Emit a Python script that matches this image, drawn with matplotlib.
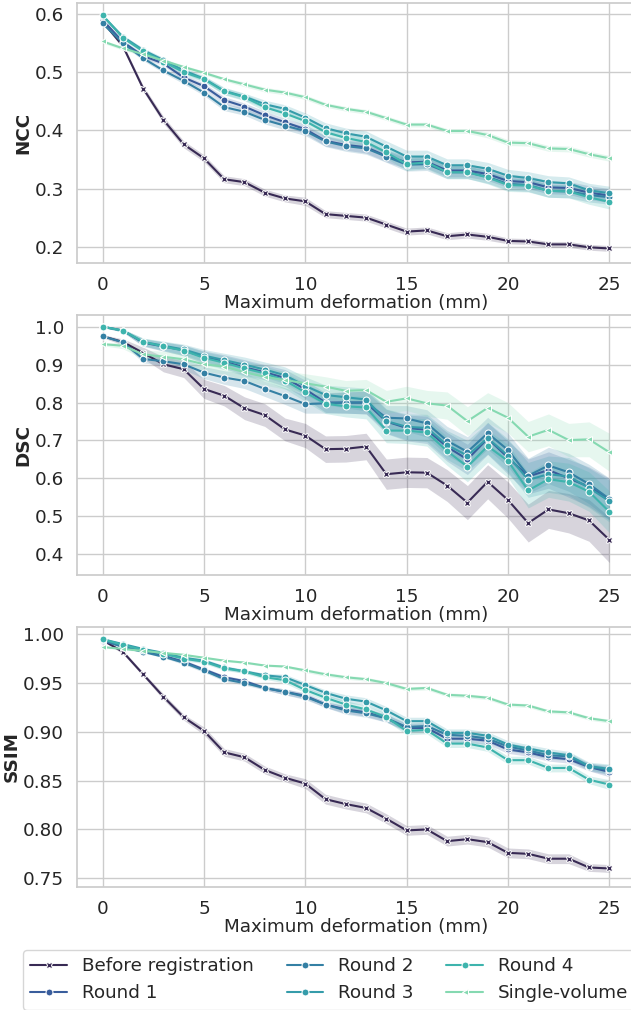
import matplotlib
matplotlib.use("Agg")
import matplotlib.pyplot as plt
import seaborn as sns
import numpy as np

sns.set_theme(style="whitegrid", context="notebook", font_scale=1.2)
plt.rcParams["font.family"] = ["DejaVu Sans"]
plt.rcParams["axes.labelsize"] = 13.2

x = list(range(26))
labels = ["Before registration", "Round 1", "Round 2", "Round 3", "Round 4", "Single-volume"]

# ---- NCC ----
ncc_before = [0.587,0.545,0.472,0.418,0.376,0.352,0.316,0.311,0.293,0.283,0.278,0.256,0.253,0.250,0.238,0.226,0.228,0.218,0.221,0.217,0.210,0.209,0.204,0.204,0.199,0.197]
ncc_r1 = [0.590,0.552,0.528,0.515,0.491,0.476,0.452,0.441,0.426,0.414,0.402,0.382,0.375,0.371,0.356,0.345,0.346,0.331,0.331,0.325,0.313,0.311,0.302,0.301,0.293,0.288]
ncc_r2 = [0.584,0.550,0.524,0.503,0.485,0.465,0.440,0.432,0.418,0.408,0.399,0.381,0.373,0.369,0.355,0.341,0.342,0.328,0.328,0.320,0.308,0.306,0.296,0.295,0.289,0.285]
ncc_r3 = [0.597,0.561,0.538,0.521,0.503,0.489,0.468,0.458,0.445,0.437,0.422,0.404,0.395,0.389,0.372,0.355,0.355,0.340,0.340,0.334,0.322,0.318,0.311,0.309,0.297,0.292]
ncc_r4 = [0.598,0.559,0.536,0.518,0.500,0.488,0.467,0.457,0.440,0.429,0.416,0.397,0.387,0.380,0.362,0.342,0.345,0.328,0.328,0.319,0.306,0.305,0.296,0.295,0.285,0.277]
ncc_single = [0.553,0.541,0.531,0.520,0.509,0.499,0.488,0.479,0.470,0.465,0.457,0.444,0.437,0.432,0.421,0.410,0.410,0.399,0.399,0.392,0.379,0.378,0.369,0.368,0.359,0.352]
ncc_band_before = [0.003,0.004,0.005,0.006,0.006,0.006,0.006,0.006,0.006,0.006,0.007,0.006,0.006,0.006,0.006,0.006,0.006,0.006,0.006,0.006,0.005,0.005,0.005,0.005,0.005,0.005]
ncc_band_rounds = [0.003,0.003,0.004,0.004,0.005,0.005,0.006,0.006,0.007,0.007,0.008,0.009,0.009,0.010,0.010,0.011,0.011,0.011,0.011,0.011,0.011,0.011,0.011,0.011,0.012,0.012]
ncc_band_single = [0.003,0.003,0.003,0.003,0.003,0.003,0.003,0.004,0.004,0.004,0.004,0.004,0.004,0.004,0.004,0.004,0.004,0.004,0.004,0.005,0.005,0.005,0.005,0.005,0.005,0.005]

# ---- DSC ----
dsc_before = [0.975,0.960,0.931,0.901,0.888,0.836,0.818,0.785,0.767,0.729,0.713,0.677,0.678,0.684,0.611,0.616,0.615,0.581,0.536,0.591,0.543,0.482,0.518,0.508,0.489,0.438]
dsc_r1 = [1.000,0.990,0.958,0.948,0.938,0.920,0.908,0.893,0.880,0.865,0.835,0.800,0.800,0.800,0.750,0.733,0.728,0.683,0.650,0.705,0.655,0.605,0.622,0.600,0.578,0.545]
dsc_r2 = [0.975,0.959,0.915,0.909,0.901,0.879,0.866,0.857,0.836,0.817,0.796,0.798,0.800,0.800,0.760,0.758,0.745,0.699,0.670,0.719,0.675,0.607,0.634,0.616,0.585,0.546]
dsc_r3 = [1.000,0.990,0.960,0.950,0.940,0.924,0.912,0.900,0.887,0.872,0.844,0.820,0.814,0.808,0.751,0.736,0.733,0.688,0.660,0.706,0.660,0.596,0.611,0.605,0.575,0.540]
dsc_r4 = [1.000,0.990,0.960,0.948,0.937,0.918,0.905,0.890,0.877,0.858,0.827,0.797,0.790,0.787,0.726,0.726,0.721,0.672,0.631,0.685,0.646,0.568,0.598,0.590,0.565,0.512]
dsc_single = [0.954,0.950,0.927,0.921,0.914,0.901,0.895,0.880,0.868,0.859,0.851,0.842,0.831,0.833,0.802,0.811,0.798,0.792,0.751,0.786,0.760,0.710,0.728,0.701,0.703,0.669]
dsc_band_before = [0.004,0.008,0.015,0.020,0.022,0.025,0.027,0.030,0.030,0.030,0.032,0.035,0.035,0.035,0.040,0.040,0.040,0.042,0.045,0.045,0.048,0.050,0.050,0.052,0.055,0.060]
dsc_band_rounds = [0.002,0.004,0.010,0.012,0.014,0.016,0.018,0.020,0.020,0.022,0.024,0.026,0.028,0.030,0.032,0.034,0.036,0.038,0.040,0.042,0.044,0.046,0.048,0.050,0.052,0.055]
dsc_band_single = [0.004,0.008,0.012,0.014,0.016,0.018,0.020,0.022,0.022,0.024,0.025,0.026,0.027,0.028,0.030,0.032,0.034,0.036,0.038,0.040,0.040,0.040,0.042,0.044,0.046,0.050]

# ---- SSIM ----
ssim_before = [0.994,0.982,0.959,0.936,0.915,0.901,0.879,0.874,0.861,0.853,0.847,0.831,0.826,0.822,0.811,0.799,0.800,0.788,0.790,0.787,0.776,0.775,0.770,0.770,0.761,0.760]
ssim_r1 = [0.993,0.988,0.983,0.978,0.972,0.964,0.956,0.952,0.945,0.941,0.937,0.928,0.923,0.920,0.914,0.904,0.904,0.893,0.893,0.891,0.882,0.879,0.874,0.872,0.864,0.859]
ssim_r2 = [0.994,0.987,0.982,0.977,0.971,0.963,0.954,0.950,0.945,0.941,0.936,0.928,0.922,0.919,0.914,0.905,0.906,0.897,0.896,0.893,0.885,0.881,0.876,0.875,0.864,0.861]
ssim_r3 = [0.995,0.990,0.985,0.981,0.976,0.973,0.966,0.962,0.958,0.956,0.948,0.940,0.934,0.931,0.922,0.911,0.911,0.899,0.899,0.896,0.887,0.883,0.879,0.876,0.865,0.862]
ssim_r4 = [0.995,0.989,0.984,0.980,0.975,0.972,0.965,0.962,0.956,0.953,0.943,0.935,0.928,0.923,0.915,0.901,0.902,0.888,0.888,0.884,0.871,0.871,0.863,0.863,0.851,0.846]
ssim_single = [0.987,0.985,0.983,0.981,0.979,0.976,0.973,0.971,0.968,0.967,0.963,0.959,0.956,0.954,0.950,0.944,0.945,0.938,0.937,0.935,0.928,0.927,0.921,0.920,0.914,0.911]
ssim_band_before = [0.001,0.002,0.002,0.003,0.003,0.004,0.004,0.004,0.004,0.004,0.005,0.005,0.005,0.005,0.005,0.005,0.005,0.005,0.005,0.005,0.005,0.005,0.005,0.005,0.004,0.004]
ssim_band_rounds = [0.001,0.001,0.001,0.001,0.002,0.002,0.002,0.002,0.002,0.003,0.003,0.003,0.004,0.004,0.004,0.004,0.004,0.004,0.004,0.004,0.004,0.004,0.004,0.004,0.004,0.005]
ssim_band_single = [0.001,0.001,0.001,0.001,0.001,0.001,0.001,0.001,0.001,0.001,0.002,0.002,0.002,0.002,0.002,0.002,0.002,0.002,0.002,0.002,0.002,0.002,0.002,0.002,0.002,0.002]

panels = [
    ("NCC", [ncc_before, ncc_r1, ncc_r2, ncc_r3, ncc_r4, ncc_single],
     [ncc_band_before] + [ncc_band_rounds] * 4 + [ncc_band_single],
     (0.172, 0.619), [0.2, 0.3, 0.4, 0.5, 0.6], "{:.1f}"),
    ("DSC", [dsc_before, dsc_r1, dsc_r2, dsc_r3, dsc_r4, dsc_single],
     [dsc_band_before] + [dsc_band_rounds] * 4 + [dsc_band_single],
     (0.345, 1.031), [0.4, 0.5, 0.6, 0.7, 0.8, 0.9, 1.0], "{:.1f}"),
    ("SSIM", [ssim_before, ssim_r1, ssim_r2, ssim_r3, ssim_r4, ssim_single],
     [ssim_band_before] + [ssim_band_rounds] * 4 + [ssim_band_single],
     (0.741, 1.0075), [0.75, 0.80, 0.85, 0.90, 0.95, 1.00], "{:.2f}"),
]

mako = sns.color_palette("mako", as_cmap=True)
colors = [mako(p) for p in (0.2, 0.4, 0.52, 0.62, 0.7, 0.85)]
markers = ["X", "o", "o", "o", "o", "<"]

fig = plt.figure(figsize=(6.31, 10.10), dpi=100)
ax_left = 77.3 / 631
ax_w = (634.6 - 77.3) / 631
tops = [3, 315, 627]
ax_h = 260 / 1010

handles = None
for (name, series, bands, ylim, yticks, fmt), top in zip(panels, tops):
    ax = fig.add_axes([ax_left, (1010 - top - 260) / 1010, ax_w, ax_h])
    hs = []
    for vals, band, c, m, lab in zip(series, bands, colors, markers, labels):
        v = np.array(vals)
        b = np.array(band)
        ax.fill_between(x, v - b, v + b, color=c, alpha=0.2, linewidth=0)
        h, = ax.plot(x, v, color=c, marker=m, markersize=5, markeredgecolor="w",
                     markeredgewidth=0.75, linewidth=1.5, label=lab)
        hs.append(h)
    if handles is None:
        handles = hs
    ax.set_xlim(-1.25, 26.25)
    ax.set_ylim(*ylim)
    ax.set_xticks([0, 5, 10, 15, 20, 25])
    ax.set_yticks(yticks)
    ax.set_yticklabels([fmt.format(t) for t in yticks])
    ax.set_xlabel("Maximum deformation (mm)", labelpad=0)
    ax.set_ylabel(name, fontweight="bold", labelpad=2)

fig.legend(handles, labels, loc="upper left", bbox_to_anchor=(23 / 631, 1 - 950 / 1010),
           ncol=3, frameon=True, borderaxespad=0, fontsize=13.2, columnspacing=1.8)

fig.savefig("out.png", dpi=100)
